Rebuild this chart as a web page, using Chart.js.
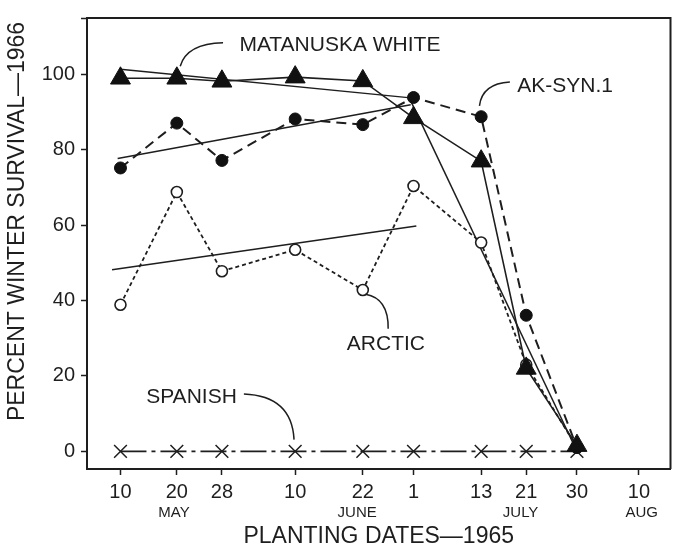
<!DOCTYPE html>
<html>
<head>
<meta charset="utf-8">
<script src="https://cdn.jsdelivr.net/npm/chart.js@4.4.0/dist/chart.umd.min.js"></script>
<style>
  html, body { margin: 0; padding: 0; background: #fff; }
  #wrap { width: 683px; height: 548px; }
</style>
</head>
<body>
<div id="wrap"><canvas id="survivalChart" width="683" height="548"></canvas></div>
<script>
// planting dates, counted in days after 10 May 1965
const plantingDays = [0, 10, 18, 31, 43, 52, 64, 72, 81];
const dayTicks = [0, 10, 18, 31, 43, 52, 64, 72, 81, 92];
const dayLabels = ['10', '20', '28', '10', '22', '1', '13', '21', '30', '10'];
const monthTicks = [9.5, 42, 71, 92.5];
const monthLabels = ['MAY', 'JUNE', 'JULY', 'AUG'];
const survivalTicks = [0, 20, 40, 60, 80, 100, 115];

// percent winter survival, 1966
const matanuskaWhite = [99, 99, 98.2, 99.3, 98.3, 88.5, 77, 22, 1.5];
const akSyn1 = [75.2, 87.1, 77.2, 88.2, 86.7, 93.9, 88.8, 36.1, 1];
const arctic = [38.9, 68.8, 47.8, 53.5, 42.8, 70.4, 55.4, 23, 1];
const spanish = [0, 0, 0, 0, 0, 0, 0, 0, 0];

// fitted lines, [day, survival] end points
const matanuskaFit = [[0, 101.4], [51.5, 93.8]];
const akSynFit = [[-0.5, 77.7], [51.5, 92]];
const arcticFit = [[-1.5, 48.2], [52.5, 59.8]];
const lateFit = [[51.5, 93], [81, 0]];

const INK = '#1e1e1e';
const FONT = '"Liberation Sans", Arial, Helvetica, sans-serif';
const Y_TITLE = 'PERCENT WINTER SURVIVAL\u20141966';

const toPoints = (values) => plantingDays.map((d, i) => ({ x: d, y: values[i] }));
const toLine = (pairs) => pairs.map(p => ({ x: p[0], y: p[1] }));

// variety names with curved leaders, in axis units
const varietyLabels = [
    { text: 'MATANUSKA WHITE', at: [21.1, 107.9], align: 'left',
      leader: [[18.2, 108.4], [11.8, 108.2], [10.6, 102.2]] },
    { text: 'AK-SYN.1', at: [70.4, 96.9], align: 'left',
      leader: [[69.1, 98.0], [64.2, 97.6], [63.7, 91.7]] },
    { text: 'ARCTIC', at: [47.1, 28.3], align: 'center',
      leader: [[43.5, 41.7], [47.6, 40.6], [47.5, 32.5]] },
    { text: 'SPANISH', at: [12.6, 14.3], align: 'center',
      leader: [[21.9, 15.2], [30.4, 14.7], [30.8, 3.1]] }
];

const frame = {
    id: 'frame',
    beforeDatasetsDraw(chart) {
        const { ctx, chartArea: a } = chart;
        ctx.save();
        ctx.strokeStyle = INK;
        ctx.lineWidth = 2;
        ctx.beginPath();
        ctx.moveTo(a.left, a.top);
        ctx.lineTo(a.right, a.top);
        ctx.lineTo(a.right, a.bottom);
        ctx.stroke();
        ctx.restore();
    }
};

// y title sits a little above the middle of the axis
const yTitle = {
    id: 'yTitle',
    afterDraw(chart) {
        const { ctx, chartArea: a } = chart;
        ctx.save();
        ctx.translate(18, (a.top + a.bottom) / 2 - 22);
        ctx.rotate(-Math.PI / 2);
        ctx.font = '23px ' + FONT;
        ctx.fillStyle = INK;
        ctx.textAlign = 'center';
        ctx.textBaseline = 'middle';
        ctx.fillText(Y_TITLE, 0, 0);
        ctx.restore();
    }
};

const leaders = {
    id: 'leaders',
    afterDatasetsDraw(chart) {
        const { ctx, scales: { x, y } } = chart;
        const px = (p) => [x.getPixelForValue(p[0]), y.getPixelForValue(p[1])];
        ctx.save();
        ctx.font = '21px ' + FONT;
        ctx.fillStyle = INK;
        ctx.strokeStyle = INK;
        ctx.lineWidth = 1.5;
        ctx.textBaseline = 'middle';
        varietyLabels.forEach(lab => {
            const [tx, ty] = px(lab.at);
            ctx.textAlign = lab.align;
            ctx.fillText(lab.text, tx, ty);
            const [p0, c, p1] = lab.leader.map(px);
            ctx.beginPath();
            ctx.moveTo(p0[0], p0[1]);
            ctx.quadraticCurveTo(c[0], c[1], p1[0], p1[1]);
            ctx.stroke();
        });
        ctx.restore();
    }
};

const fitLine = (pairs) => ({
    data: toLine(pairs),
    borderColor: INK,
    borderWidth: 1.5,
    pointRadius: 0,
    fill: false
});

const xRange = { min: -5.94, max: 97.6 };

new Chart(document.getElementById('survivalChart'), {
    type: 'line',
    data: {
        datasets: [
            {
                label: 'MATANUSKA WHITE',
                data: toPoints(matanuskaWhite),
                borderColor: INK,
                borderWidth: 1.6,
                pointStyle: 'triangle',
                pointRadius: 11.5,
                pointBackgroundColor: '#111',
                pointBorderColor: '#111',
                pointBorderWidth: 1
            },
            {
                label: 'AK-SYN.1',
                data: toPoints(akSyn1),
                borderColor: INK,
                borderWidth: 2,
                borderDash: [10, 6],
                pointStyle: 'circle',
                pointRadius: 6,
                pointBackgroundColor: '#111',
                pointBorderColor: '#111',
                pointBorderWidth: 1
            },
            {
                label: 'ARCTIC',
                data: toPoints(arctic),
                borderColor: INK,
                borderWidth: 1.8,
                borderDash: [4, 3],
                pointStyle: 'circle',
                pointRadius: 5.5,
                pointBackgroundColor: '#fff',
                pointBorderColor: INK,
                pointBorderWidth: 1.6
            },
            {
                label: 'SPANISH',
                data: toPoints(spanish),
                borderColor: INK,
                borderWidth: 1.8,
                borderDash: [26, 5, 4, 5],
                pointStyle: 'crossRot',
                pointRadius: 9,
                pointBorderColor: INK,
                pointBorderWidth: 1.5
            },
            fitLine(matanuskaFit),
            fitLine(akSynFit),
            fitLine(arcticFit),
            fitLine(lateFit)
        ]
    },
    options: {
        responsive: false,
        animation: false,
        devicePixelRatio: 1,
        layout: { padding: { left: 0, right: 3, top: 12, bottom: 0 } },
        elements: { line: { tension: 0 } },
        plugins: {
            legend: { display: false },
            tooltip: { enabled: false }
        },
        scales: {
            x: {
                type: 'linear',
                ...xRange,
                afterBuildTicks: (s) => { s.ticks = dayTicks.map(v => ({ value: v })); },
                afterFit: (s) => { s.height = 35; },
                ticks: {
                    autoSkip: false,
                    maxRotation: 0,
                    padding: 5,
                    color: INK,
                    font: { family: FONT, size: 20 },
                    callback: (v, i) => dayLabels[i]
                },
                grid: { display: true, drawOnChartArea: false, drawTicks: true, tickLength: 6, tickWidth: 1.5, tickColor: INK },
                border: { color: INK, width: 2 }
            },
            x2: {
                type: 'linear',
                position: 'bottom',
                weight: 1,
                ...xRange,
                afterBuildTicks: (s) => { s.ticks = monthTicks.map(v => ({ value: v })); },
                afterFit: (s) => { s.height = 44; },
                ticks: {
                    autoSkip: false,
                    maxRotation: 0,
                    padding: 0,
                    color: INK,
                    font: { family: FONT, size: 15 },
                    callback: (v, i) => monthLabels[i]
                },
                grid: { display: false, drawTicks: false },
                border: { display: false },
                title: {
                    display: true,
                    text: 'PLANTING DATES\u20141965',
                    color: INK,
                    font: { family: FONT, size: 23, lineHeight: 1 },
                    padding: { top: 0, bottom: 0 }
                }
            },
            y: {
                min: -4.7,
                max: 115,
                afterBuildTicks: (s) => { s.ticks = survivalTicks.map(v => ({ value: v })); },
                afterFit: (s) => { s.width = 87; },
                ticks: {
                    padding: 6,
                    color: INK,
                    font: { family: FONT, size: 20 },
                    callback: (v) => (v > 100 ? '' : v)
                },
                grid: { display: true, drawOnChartArea: false, drawTicks: true, tickLength: 6, tickWidth: 1.5, tickColor: INK },
                border: { color: INK, width: 2 }
            }
        }
    },
    plugins: [frame, leaders, yTitle]
});
</script>
</body>
</html>
